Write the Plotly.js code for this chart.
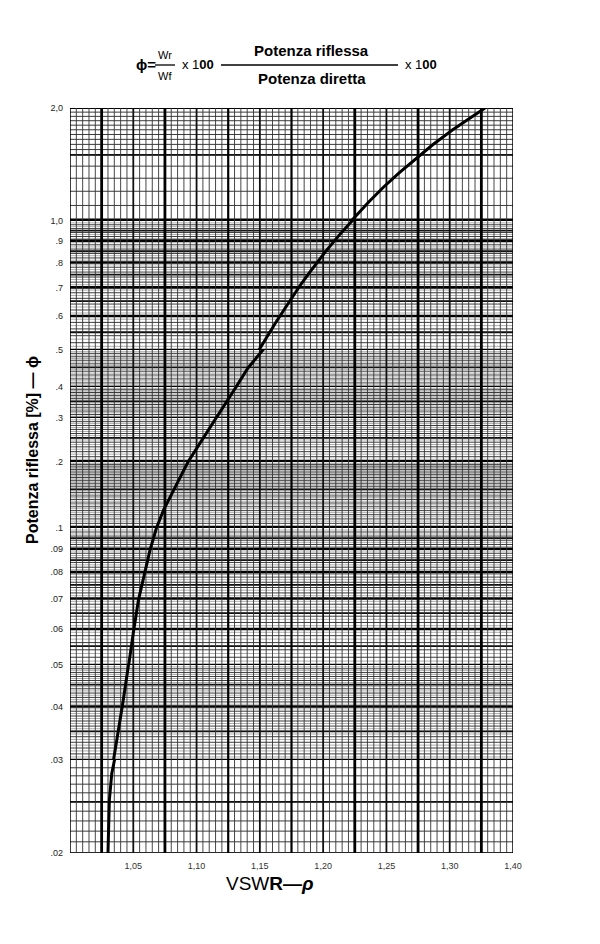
<!DOCTYPE html>
<html><head><meta charset="utf-8">
<script src="https://cdn.plot.ly/plotly-3.0.1.min.js"></script>
<style>html,body{margin:0;padding:0;background:#fff}#chart{width:600px;height:944px}</style>
</head><body><div id="chart"></div>
<script>
// ---------- data ----------
const vswr = [1.0300,1.0311,1.0330,1.0344,1.0382,1.0421,1.0462,1.0500,1.0541,1.0581,1.0632,1.0683,1.0739,1.0778,1.0897,1.0932,1.1019,1.1154,1.1280,1.1312,1.1406,1.1493,1.1628,1.1738,1.1820,1.1895,1.2017,1.2127,1.2222,1.2360,1.2478,1.2598,1.2764,1.2863,1.3021,1.3193,1.3279];
const reflectedPower = [0.0200,0.0252,0.0283,0.0300,0.0347,0.0414,0.0500,0.0588,0.0695,0.0780,0.0894,0.1000,0.1208,0.1342,0.1839,0.2000,0.2339,0.3000,0.3783,0.4000,0.4486,0.5000,0.5813,0.654,0.709,0.760,0.847,0.927,1.000,1.124,1.232,1.342,1.499,1.594,1.747,1.917,2.000];
const xTickVals = [1.05,1.10,1.15,1.20,1.25,1.30,1.35];
const xTickText = ['1,05','1,10','1,15','1,20','1,25','1,30','1,40'];
const yTickVals = [2.0,1.0,0.9,0.8,0.7,0.6,0.5,0.4,0.3,0.2,0.1,0.09,0.08,0.07,0.06,0.05,0.04,0.03,0.02];
const yTickText = ['2,0','1,0','.9','.8','.7','.6','.5','.4','.3','.2','.1','.09','.08','.07','.06','.05','.04','.03','.02'];
const xRange = [1.0, 1.35];

// ---------- layout configuration ----------
// The printed scale is not one clean log scale: it is built from log pieces (value range -> pixel rows)
const W = 600, H = 944, L = 70, R = 513, T = 108, B = 853;
const segments = [
  {lo:1,    hi:2,    top:108, bottom:221},
  {lo:0.5,  hi:1,    top:221, bottom:350},
  {lo:0.4,  hi:0.5,  top:350, bottom:387},
  {lo:0.3,  hi:0.4,  top:387, bottom:418},
  {lo:0.2,  hi:0.3,  top:418, bottom:462},
  {lo:0.1,  hi:0.2,  top:462, bottom:528},
  {lo:0.05, hi:0.1,  top:528, bottom:665},
  {lo:0.03, hi:0.05, top:665, bottom:760},
  {lo:0.02, hi:0.03, top:760, bottom:853}
];
const fineGrid = [[1.0,1.5,0.1],[1.5,2.0,0.05],[0.5,1.0,0.02],[0.2,0.5,0.01],[0.1,0.2,0.005],[0.05,0.1,0.002],[0.02,0.05,0.001]];
const toneGrid = [[0.5,1.0,0.02],[0.2,0.5,0.01],[0.1,0.2,0.005],[0.05,0.1,0.002],[0.03,0.05,0.001]];
const halfLines = [1.5,0.95,0.85,0.75,0.65,0.55,0.45,0.35,0.25,0.15,0.095,0.085,0.075,0.065,0.055,0.045,0.035,0.025];
const heavyLines = {'1':5,'0.2':4,'0.1':4,'2':2,'0.02':1.5};

const px = x => (x - L) / (R - L);
const py = y => (B - y) / (B - T);
const yName = i => i === 0 ? 'y' : 'y' + (i + 1);
const yKey = i => i === 0 ? 'yaxis' : 'yaxis' + (i + 1);
const r6 = v => Math.round(v * 1e7) / 1e7;
function segOf(v) {
  for (let i = 0; i < segments.length; i++) {
    const s = segments[i];
    if (v <= s.hi + 1e-9 && v >= s.lo - 1e-9) return i;
  }
  return -1;
}
function tickSegOf(v) {
  for (let i = 0; i < segments.length; i++) {
    const s = segments[i];
    if (v <= s.hi + 1e-9 && (v > s.lo + 1e-9 || i === segments.length - 1)) return i;
  }
  return -1;
}

const font = 'Liberation Sans, Arial, Helvetica, sans-serif';
const layout = {
  width: W, height: H,
  margin: {l: L, r: W - R, t: T, b: H - B, pad: 0},
  paper_bgcolor: '#fff', plot_bgcolor: 'rgba(0,0,0,0)',
  showlegend: false,
  font: {family: font, color: '#222'},
  xaxis: {
    range: xRange, domain: [0, 1], anchor: yName(segments.length - 1),
    showgrid: false, zeroline: false, showline: false,
    tickmode: 'array', tickvals: xTickVals, ticktext: xTickText,
    ticks: '', ticklabelstandoff: 6,
    tickfont: {size: 9, color: '#333', family: font}
  },
  shapes: [], annotations: []
};

const traces = [];
segments.forEach((s, i) => {
  const tv = [], tt = [];
  yTickVals.forEach((v, k) => { if (tickSegOf(v) === i) { tv.push(v); tt.push(yTickText[k]); } });
  layout[yKey(i)] = {
    type: 'log', range: [Math.log10(s.lo), Math.log10(s.hi)],
    domain: [py(s.bottom), py(s.top)], anchor: 'x',
    showgrid: false, zeroline: false, showline: false,
    tickmode: 'array', tickvals: tv, ticktext: tt, ticks: '',
    ticklabelstandoff: 6,
    tickfont: {size: 9, color: '#222', family: font}
  };
  traces.push({
    x: vswr, y: reflectedPower, xaxis: 'x', yaxis: yName(i),
    mode: 'lines', line: {color: '#000', width: 3}, hoverinfo: 'skip'
  });
});

// horizontal graph-paper lines
function hLine(v, width, color) {
  const i = segOf(v);
  if (i < 0) return;
  layout.shapes.push({type: 'line', layer: 'below', xref: 'paper', x0: 0, x1: 1,
    yref: yName(i), y0: v, y1: v, line: {color: color, width: width}});
}
toneGrid.forEach(([a, b, st]) => {
  const n = Math.round((b - a) / st);
  for (let k = 0; k < n; k++) hLine(r6(a + (k + 0.5) * st), 0.7, '#8a8a8a');
});
fineGrid.forEach(([a, b, st]) => {
  const n = Math.round((b - a) / st);
  for (let k = 0; k < n; k++) hLine(r6(a + k * st), 0.9, '#262626');
});
halfLines.forEach(v => hLine(v, 1.8, '#111'));
yTickVals.forEach(v => hLine(v, heavyLines[String(v)] || 2.6, '#000'));

// vertical graph-paper lines
const nX = Math.round((xRange[1] - xRange[0]) / 0.005);
for (let k = 0; k <= nX; k++) {
  const v = r6(xRange[0] + k * 0.005);
  let w = 0.9, c = '#333';
  if (k % 10 === 5) { w = (k === 25 || k === 35) ? 2.2 : 2.8; c = '#000'; }
  else if (k % 10 === 0) { w = 1.8; c = '#111'; }
  if (k === 0 || k === nX) { w = 1.5; c = '#000'; }
  layout.shapes.push({type: 'line', layer: 'below', yref: 'paper', y0: 0, y1: 1,
    xref: 'x', x0: v, x1: v, line: {color: c, width: w}});
}

// titles and formula
function ann(text, x, y, size, extra) {
  layout.annotations.push(Object.assign({text: text, xref: 'paper', yref: 'paper',
    x: px(x), y: py(y), xanchor: 'center', yanchor: 'middle', showarrow: false,
    font: {family: font, size: size, color: '#000'}}, extra || {}));
}
ann('<b>Potenza riflessa [%] — ϕ</b>', 33, 450, 16, {textangle: -90});
ann('VSW<b>R—<i>ρ</i></b>', 270, 884, 19);
ann('<b>ϕ=</b>', 146, 65, 15);
ann('Wr', 165, 55, 11);
ann('Wf', 165, 76, 11);
ann('x 1<b>00</b>', 198, 65, 13);
ann('<b>Potenza riflessa</b>', 311, 50, 15);
ann('<b>Potenza diretta</b>', 312, 78, 15);
ann('x 1<b>00</b>', 421, 65, 13);
function lineShape(x0, x1, y, w) {
  layout.shapes.push({type: 'line', xref: 'paper', yref: 'paper', x0: px(x0), x1: px(x1),
    y0: py(y), y1: py(y), line: {color: '#000', width: w}});
}
lineShape(155, 175, 65, 1.3);
lineShape(221, 398, 65, 1.6);

Plotly.newPlot('chart', traces, layout, {displayModeBar: false, staticPlot: true});
</script></body></html>
